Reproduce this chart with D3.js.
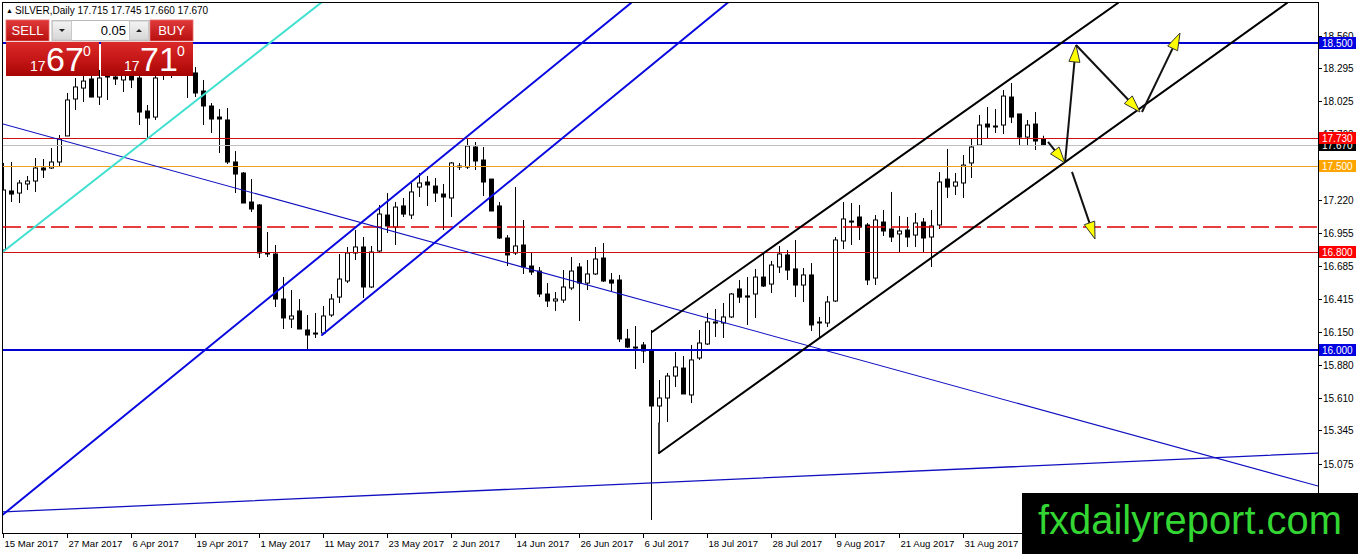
<!DOCTYPE html>
<html><head><meta charset="utf-8">
<script src="https://cdn.jsdelivr.net/npm/d3@7/dist/d3.min.js"></script>
<style>body{margin:0;background:#fff;overflow:hidden}svg{display:block}</style>
</head><body><svg id="c" width="1358" height="554"></svg>
<script>
// ---- Data (SILVER Daily) ----
const opens=[16.814,17.295,17.278,17.352,17.376,17.482,17.482,17.531,17.743,18.044,
18.133,18.207,18.060,18.264,18.223,18.199,18.231,18.215,17.946,17.897,
18.239,18.296,18.264,18.239,18.256,18.109,17.987,17.897,17.873,17.531,
17.441,17.205,17.181,16.790,16.782,16.415,16.252,16.318,16.163,16.130,
16.138,16.285,16.431,16.562,16.790,16.839,16.513,16.806,17.099,17.001,
17.173,17.099,17.327,17.368,17.335,17.270,17.238,17.490,17.490,17.653,
17.547,17.392,17.173,16.912,16.790,16.855,16.684,16.643,16.456,16.399,
16.407,16.505,16.676,16.545,16.619,16.749,16.570,16.570,16.090,16.024,
16.041,16.000,15.544,15.609,15.788,15.853,15.634,15.935,16.049,16.220,
16.220,16.269,16.497,16.440,16.456,16.594,16.537,16.676,16.774,16.660,
16.529,16.611,16.228,16.220,16.399,16.888,17.050,17.083,17.018,16.586,
17.042,16.985,16.945,16.977,16.936,17.042,16.920,17.018,17.392,17.335,
17.360,17.523,17.669,17.840,17.824,17.832,18.060,17.922,17.734,17.840,
17.715];
const highs=[17.523,17.531,17.384,17.417,17.563,17.555,17.645,17.751,18.093,18.215,
18.247,18.264,18.280,18.313,18.280,18.296,18.280,18.280,17.995,18.264,
18.345,18.345,18.329,18.313,18.304,18.199,18.011,17.962,17.971,17.620,
17.449,17.392,17.189,16.961,16.855,16.594,16.488,16.415,16.285,16.301,
16.358,16.456,16.782,16.839,16.977,16.920,16.847,17.181,17.278,17.205,
17.238,17.360,17.441,17.417,17.401,17.352,17.531,17.523,17.726,17.694,
17.653,17.392,17.205,16.936,17.327,17.059,16.798,16.676,16.545,16.472,
16.651,16.757,16.708,16.733,16.839,16.871,16.627,16.611,16.171,16.195,
16.065,16.163,15.756,15.813,15.984,15.951,16.041,16.163,16.301,16.334,
16.383,16.464,16.570,16.594,16.660,16.790,16.725,16.847,16.814,16.896,
16.668,16.708,16.269,16.440,16.920,17.205,17.197,17.181,17.034,17.099,
17.140,17.287,17.091,17.083,17.116,17.075,17.140,17.449,17.637,17.441,
17.588,17.726,17.914,17.979,17.962,18.117,18.174,17.922,17.873,17.938,
17.745];
const lows=[16.798,17.205,17.197,17.303,17.287,17.401,17.474,17.490,17.743,17.954,
18.019,18.060,17.995,18.036,18.158,18.101,18.133,17.832,17.726,17.873,
18.199,18.215,18.231,18.052,18.060,17.832,17.767,17.604,17.515,17.278,
17.197,17.124,16.749,16.757,16.350,16.171,16.179,16.171,16.008,16.098,
16.122,16.269,16.383,16.545,16.733,16.423,16.505,16.798,16.953,16.855,
17.083,17.067,17.246,17.173,17.205,16.977,17.083,17.466,17.474,17.466,
17.254,17.132,16.904,16.684,16.774,16.619,16.611,16.431,16.350,16.318,
16.383,16.488,16.236,16.488,16.611,16.554,16.480,16.065,16.016,15.845,
15.894,14.616,15.406,15.414,15.699,15.642,15.568,15.919,16.041,16.106,
16.098,16.261,16.383,16.204,16.261,16.513,16.464,16.627,16.570,16.431,
16.391,16.155,16.098,16.187,16.391,16.822,16.855,16.896,16.529,16.529,
16.928,16.879,16.798,16.839,16.839,16.790,16.676,16.985,17.238,17.262,
17.238,17.401,17.669,17.726,17.767,17.759,17.848,17.661,17.669,17.629,
17.660];
const closes=[17.303,17.270,17.360,17.376,17.482,17.466,17.531,17.718,18.036,18.142,
18.190,18.060,18.215,18.223,18.207,18.247,18.199,17.938,17.889,18.215,
18.296,18.264,18.280,18.247,18.093,17.987,17.881,17.881,17.531,17.433,
17.197,17.148,16.790,16.782,16.415,16.261,16.277,16.171,16.122,16.138,
16.277,16.415,16.578,16.790,16.839,16.513,16.798,17.107,17.010,17.164,
17.107,17.287,17.360,17.344,17.278,17.246,17.523,17.498,17.661,17.539,
17.368,17.132,16.912,16.774,16.847,16.676,16.635,16.456,16.399,16.415,
16.513,16.643,16.545,16.619,16.741,16.562,16.545,16.090,16.024,16.020,
15.992,15.544,15.609,15.788,15.862,15.642,15.919,16.057,16.228,16.228,
16.269,16.456,16.431,16.431,16.594,16.521,16.692,16.782,16.651,16.529,
16.611,16.204,16.220,16.391,16.896,17.067,17.042,17.001,16.570,17.059,
16.969,16.920,16.969,16.920,17.034,16.912,17.010,17.368,17.327,17.368,
17.506,17.653,17.832,17.816,17.820,18.068,17.897,17.734,17.832,17.702,
17.670];

const dateLabels=["15 Mar 2017","27 Mar 2017","6 Apr 2017","19 Apr 2017","1 May 2017","11 May 2017",
"23 May 2017","2 Jun 2017","14 Jun 2017","26 Jun 2017","6 Jul 2017","18 Jul 2017","28 Jul 2017",
"9 Aug 2017","21 Aug 2017","31 Aug 2017"];
const dateLabelBars=[0,8,16,24,32,40,48,56,64,72,80,88,96,104,112,120];

// visible price-scale ticks (17.490 is fully covered by the 17.500 level tag)
const priceTicks=[18.560,18.295,18.025,17.760,17.220,16.955,16.685,16.415,16.150,15.880,15.610,15.345,15.075,14.805];

// horizontal levels
const levelValues=[18.500,17.730,17.670,17.500,17.000,16.800,16.000];
const levelKinds=["blue","red","bid","orange","dash","red","blue"];
const levelLabeled=[true,true,true,true,false,true,true];

// trendlines: [bar, price] endpoints
const cyanLine=[[0,16.800],[40,18.840]];
const blueChannelA=[[0,14.660],[78.5,18.826]];
const blueChannelB=[[39.875,16.122],[91,18.850]];
const blueThinDown=[[0,17.840],[164.375,14.892]];
const blueThinUp=[[0,14.681],[164.375,15.161]];
const blackUpper=[[81.125,16.147],[139.375,18.826]];
const blackLower=[[82,15.161],[160.5,18.826]];
const blackLink=[[82,15.406],[82,15.161]];
const arrows=[
  [[130.625,17.694],[132.75,17.523]],
  [[132.75,17.523],[134.125,18.484]],
  [[134.125,18.484],[142.125,17.938]],
  [[142.375,17.938],[147.125,18.581]],
  [[133.625,17.450],[136.5,16.904]]
];

const symbolText="SILVER,Daily  17.715 17.745 17.660 17.670";

// ---- Drawing ----
const svg=d3.select("#c");
const L=3,R=1318,T=3,B=533;
const x=d3.scaleLinear().domain([0,164.375]).range([L,R]);
const y=d3.scaleLinear().domain([16,18.5]).range([350,43]);
const FONT="'Liberation Sans', Arial, sans-serif";

const defs=svg.append("defs");
defs.append("clipPath").attr("id","plot").append("rect").attr("x",L).attr("y",T).attr("width",R-L).attr("height",B-T);
const g1=defs.append("linearGradient").attr("id","redg").attr("x1",0).attr("y1",0).attr("x2",0).attr("y2",1);
g1.append("stop").attr("offset","0%").attr("stop-color","#dc2a2a");
g1.append("stop").attr("offset","55%").attr("stop-color","#c41616");
g1.append("stop").attr("offset","100%").attr("stop-color","#a80404");
const g2=defs.append("linearGradient").attr("id","redb").attr("x1",0).attr("y1",0).attr("x2",0).attr("y2",1);
g2.append("stop").attr("offset","0%").attr("stop-color","#e03a3a");
g2.append("stop").attr("offset","100%").attr("stop-color","#b80e0e");
const g3=defs.append("linearGradient").attr("id","grayg").attr("x1",0).attr("y1",0).attr("x2",0).attr("y2",1);
g3.append("stop").attr("offset","0%").attr("stop-color","#f4f4f4");
g3.append("stop").attr("offset","100%").attr("stop-color","#d6d6d6");

const plot=svg.append("g").attr("clip-path","url(#plot)");

// candles
const bars=d3.range(opens.length);
const cg=plot.append("g");
cg.selectAll("line.wick").data(bars).join("line")
  .attr("x1",i=>Math.round(x(i))+0.5).attr("x2",i=>Math.round(x(i))+0.5)
  .attr("y1",i=>y(highs[i])).attr("y2",i=>y(lows[i]))
  .attr("stroke","#000").attr("stroke-width",1);
cg.selectAll("rect.body").data(bars).join("rect")
  .attr("x",i=>Math.round(x(i))-1.5)
  .attr("width",4)
  .attr("y",i=>Math.min(y(opens[i]),y(closes[i])))
  .attr("height",i=>Math.max(1,Math.abs(y(opens[i])-y(closes[i]))))
  .attr("fill",i=>closes[i]>=opens[i]?"#fff":"#000")
  .attr("stroke","#000").attr("stroke-width",1);

// horizontal levels
const levelStyle={
  blue:{c:"#0000d0",w:2,d:null},
  red:{c:"#d01010",w:1,d:null},
  bid:{c:"#c0c0c0",w:1,d:null},
  orange:{c:"#f0a020",w:1,d:null},
  dash:{c:"#e00000",w:2,d:"18,6"}
};
levelValues.forEach((v,k)=>{
  const s=levelStyle[levelKinds[k]];
  const yy=Math.round(y(v))+(s.w===2?0:0.5);
  const ln=plot.append("line").attr("x1",L).attr("x2",R).attr("y1",yy).attr("y2",yy)
    .style("stroke",s.c).style("stroke-width",(s.d?1.5:s.w)+"px");
  if(s.d) ln.style("stroke-dasharray",s.d);
});

function seg(p,color,w){
  plot.append("line").attr("x1",x(p[0][0])).attr("y1",y(p[0][1]))
    .attr("x2",x(p[1][0])).attr("y2",y(p[1][1]))
    .attr("stroke",color).attr("stroke-width",w).attr("stroke-linecap","round");
}
seg(blueThinDown,"#1010c0",1.1);
seg(blueThinUp,"#1010c0",1.3);
seg(cyanLine,"#40e0d0",2);
seg(blueChannelA,"#0a0ae0",2);
seg(blueChannelB,"#0a0ae0",2);
seg(blackUpper,"#000",2);
seg(blackLower,"#000",2);
seg(blackLink,"#000",1.5);

// arrows
arrows.forEach(a=>{
  const x1=x(a[0][0]),y1=y(a[0][1]),x2=x(a[1][0]),y2=y(a[1][1]);
  const dx=x2-x1,dy=y2-y1,len=Math.hypot(dx,dy),ux=dx/len,uy=dy/len;
  const hl=Math.min(17,len*0.6),hw=5.5;
  const bx=x2-ux*hl,by=y2-uy*hl;
  plot.append("line").attr("x1",x1).attr("y1",y1).attr("x2",bx).attr("y2",by)
    .attr("stroke","#111").attr("stroke-width",2);
  plot.append("path")
    .attr("d",`M${x2},${y2}L${bx-uy*hw},${by+ux*hw}L${bx+uy*hw},${by-ux*hw}Z`)
    .attr("fill","#ffff00").attr("stroke","#333").attr("stroke-width",1).attr("stroke-linejoin","round");
});

// frame
svg.append("rect").attr("x",L-0.5).attr("y",T-0.5).attr("width",R-L+1).attr("height",B-T+1)
  .attr("fill","none").attr("stroke","#000").attr("stroke-width",1);

// price axis
const ax=svg.append("g");
priceTicks.forEach(v=>{
  const yy=Math.round(y(v))+0.5;
  ax.append("line").attr("x1",R).attr("x2",R+4).attr("y1",yy).attr("y2",yy).attr("stroke","#000");
  ax.append("text").attr("x",R+5).attr("y",yy+3.5).text(v.toFixed(3))
    .attr("font-family",FONT).attr("font-size",10).attr("fill","#000");
});
// date axis
dateLabelBars.forEach((b,k)=>{
  const xx=Math.round(x(b))+0.5;
  ax.append("line").attr("x1",xx).attr("x2",xx).attr("y1",B).attr("y2",B+5).attr("stroke","#000");
  ax.append("text").attr("x",xx+1).attr("y",B+14).text(dateLabels[k])
    .attr("font-family",FONT).attr("font-size",9.6).attr("fill","#000");
});
// level tags (drawn bottom-up so upper tags sit on top)
const boxColor={blue:"#0000e0",red:"#ff0000",bid:"#000000",orange:"#ffa500"};
d3.range(levelValues.length).reverse().forEach(k=>{
  if(!levelLabeled[k])return;
  const v=levelValues[k];
  const yy=Math.round(y(v));
  ax.append("rect").attr("x",R+1).attr("y",yy-6).attr("width",37).attr("height",12).attr("fill",boxColor[levelKinds[k]]);
  ax.append("text").attr("x",R+4).attr("y",yy+4).text(v.toFixed(3))
    .attr("font-family",FONT).attr("font-size",10).attr("fill","#fff");
});

// header
const hd=svg.append("text").attr("x",6).attr("y",14).attr("font-family",FONT).attr("font-size",10).attr("fill","#000");
hd.append("tspan").attr("font-size",7).attr("dy",-1).text("▲ ");
hd.append("tspan").attr("dy",1).text(symbolText);

// trading panel
const pn=svg.append("g");
pn.append("rect").attr("x",6).attr("y",20).attr("width",43).attr("height",21).attr("fill","url(#redb)").attr("stroke","#e86a6a").attr("stroke-width",0.8);
pn.append("text").attr("x",27.5).attr("y",35).attr("text-anchor","middle").attr("font-family",FONT).attr("font-size",13).attr("fill","#fff").text("SELL");
pn.append("rect").attr("x",150).attr("y",20).attr("width",43).attr("height",21).attr("fill","url(#redb)").attr("stroke","#e86a6a").attr("stroke-width",0.8);
pn.append("text").attr("x",171.5).attr("y",35).attr("text-anchor","middle").attr("font-family",FONT).attr("font-size",13).attr("fill","#fff").text("BUY");
// spinner
pn.append("rect").attr("x",52).attr("y",20.5).attr("width",97).attr("height",20).attr("fill","#fff").attr("stroke","#b8b8b8");
pn.append("rect").attr("x",52.5).attr("y",21).attr("width",19).attr("height",19).attr("fill","url(#grayg)").attr("stroke","#c8c8c8");
pn.append("rect").attr("x",129.5).attr("y",21).attr("width",19).attr("height",19).attr("fill","url(#grayg)").attr("stroke","#c8c8c8");
pn.append("path").attr("d","M59,29L65,29L62,32Z").attr("fill","#222");
pn.append("path").attr("d","M136,32L142,32L139,29Z").attr("fill","#222");
pn.append("text").attr("x",126).attr("y",35).attr("text-anchor","end").attr("font-family",FONT).attr("font-size",13).attr("fill","#000").text("0.05");
// price boxes
pn.append("rect").attr("x",6).attr("y",41).attr("width",93).attr("height",35).attr("fill","url(#redg)");
pn.append("rect").attr("x",101).attr("y",41).attr("width",92).attr("height",35).attr("fill","url(#redg)");
pn.append("line").attr("x1",6).attr("x2",193).attr("y1",41.5).attr("y2",41.5).attr("stroke","#f0d0d0").attr("stroke-width",1);
function priceBox(x0,small,big,sup){
  pn.append("text").attr("x",x0).attr("y",71).attr("font-family",FONT).attr("font-size",14).attr("fill","#fff").text(small);
  pn.append("text").attr("x",x0+16).attr("y",71).attr("font-family",FONT).attr("font-size",34).attr("fill","#fff").text(big);
  pn.append("text").attr("x",x0+53).attr("y",56).attr("font-family",FONT).attr("font-size",14).attr("fill","#fff").text(sup);
}
priceBox(30,"17","67","0");
priceBox(124,"17","71","0");

// watermark
svg.append("rect").attr("x",1022).attr("y",493).attr("width",336).attr("height",61).attr("fill","#000");
svg.append("text").attr("x",1038).attr("y",534).attr("font-family",FONT).attr("font-size",40)
  .attr("fill","#33d633").attr("textLength",304).attr("lengthAdjust","spacingAndGlyphs").text("fxdailyreport.com");
</script></body></html>
